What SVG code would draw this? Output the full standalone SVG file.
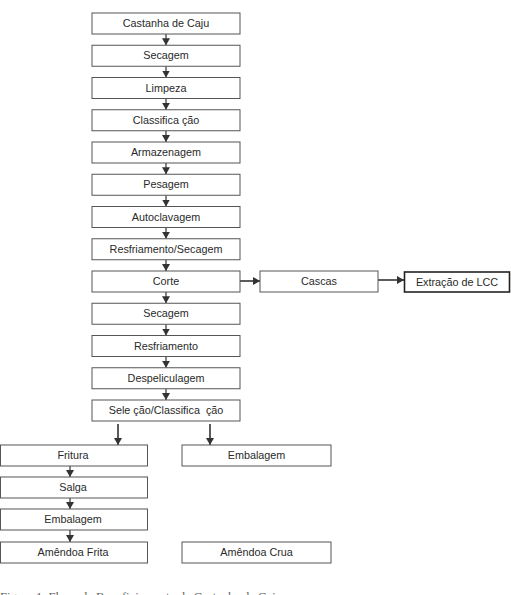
<svg xmlns="http://www.w3.org/2000/svg" width="511" height="595" viewBox="0 0 511 595">
<style>
.b{fill:#fff;stroke:#555;stroke-width:1}
.bd{fill:#fff;stroke:#222;stroke-width:1.6}
.t{font-family:"Liberation Sans",Arial,sans-serif;font-size:10.8px;fill:#2a2a2a;text-anchor:middle}
.c{stroke:#333;stroke-width:1.2;fill:none;marker-end:url(#ah)}
.cl{stroke:#333;stroke-width:1.6;fill:none;marker-end:url(#ah)}
.cap{font-family:"Liberation Serif","Times New Roman",serif;font-size:12px;fill:#666}
</style>
<defs>
<marker id="ah" viewBox="0 0 7 8" refX="7" refY="4" markerWidth="7" markerHeight="8" markerUnits="userSpaceOnUse" orient="auto">
<path d="M0,0 L7,4 L0,8 z" fill="#333"/>
</marker>
</defs>
<rect width="511" height="595" fill="#fff"/>
<g id="connectors">
<line class="c" x1="166" y1="34" x2="166" y2="45.25"/>
<line class="c" x1="166" y1="66.25" x2="166" y2="77.5"/>
<line class="c" x1="166" y1="98.5" x2="166" y2="109.75"/>
<line class="c" x1="166" y1="130.75" x2="166" y2="142"/>
<line class="c" x1="166" y1="163" x2="166" y2="174.25"/>
<line class="c" x1="166" y1="195.25" x2="166" y2="206.5"/>
<line class="c" x1="166" y1="227.5" x2="166" y2="238.75"/>
<line class="c" x1="166" y1="259.75" x2="166" y2="271"/>
<line class="c" x1="166" y1="292" x2="166" y2="303.25"/>
<line class="c" x1="166" y1="324.25" x2="166" y2="335.5"/>
<line class="c" x1="166" y1="356.5" x2="166" y2="367.75"/>
<line class="c" x1="166" y1="388.75" x2="166" y2="400"/>
<line class="cl" x1="240" y1="281" x2="260" y2="281"/>
<line class="cl" x1="378" y1="280" x2="404" y2="280"/>
<line class="cl" x1="118" y1="424" x2="118" y2="445"/>
<line class="cl" x1="210" y1="424" x2="210" y2="445"/>
<line class="c" x1="70" y1="466" x2="70" y2="477"/>
<line class="c" x1="70" y1="498" x2="70" y2="509"/>
<line class="c" x1="70" y1="530" x2="70" y2="542"/>
</g>
<g id="n1"><rect class="b" x="92" y="13" width="148" height="21"/><text class="t" x="166" y="27">Castanha de Caju</text></g>
<g id="n2"><rect class="b" x="92" y="45.25" width="148" height="21"/><text class="t" x="166" y="59.25">Secagem</text></g>
<g id="n3"><rect class="b" x="92" y="77.5" width="148" height="21"/><text class="t" x="166" y="91.5">Limpeza</text></g>
<g id="n4"><rect class="b" x="92" y="109.75" width="148" height="21"/><text class="t" x="166" y="123.75" xml:space="preserve">Classifica ção</text></g>
<g id="n5"><rect class="b" x="92" y="142" width="148" height="21"/><text class="t" x="166" y="156">Armazenagem</text></g>
<g id="n6"><rect class="b" x="92" y="174.25" width="148" height="21"/><text class="t" x="166" y="188.25">Pesagem</text></g>
<g id="n7"><rect class="b" x="92" y="206.5" width="148" height="21"/><text class="t" x="166" y="220.5">Autoclavagem</text></g>
<g id="n8"><rect class="b" x="92" y="238.75" width="148" height="21"/><text class="t" x="166" y="252.75">Resfriamento/Secagem</text></g>
<g id="n9"><rect class="b" x="92" y="271" width="148" height="21"/><text class="t" x="166" y="285">Corte</text></g>
<g id="n10"><rect class="b" x="92" y="303.25" width="148" height="21"/><text class="t" x="166" y="317.25">Secagem</text></g>
<g id="n11"><rect class="b" x="92" y="335.5" width="148" height="21"/><text class="t" x="166" y="349.5">Resfriamento</text></g>
<g id="n12"><rect class="b" x="92" y="367.75" width="148" height="21"/><text class="t" x="166" y="381.75">Despeliculagem</text></g>
<g id="n13"><rect class="b" x="92" y="400" width="148" height="21"/><text class="t" x="166" y="414" xml:space="preserve">Sele ção/Classifica  ção</text></g>
<g id="cascas"><rect class="b" x="260" y="271" width="118" height="21"/><text class="t" x="319" y="285">Cascas</text></g>
<g id="lcc"><rect class="bd" x="404.5" y="272" width="105" height="20"/><text class="t" x="457" y="285.5">Extração de LCC</text></g>
<g id="fritura"><rect class="b" x="0.5" y="445" width="147" height="21"/><text class="t" x="73" y="459">Fritura</text></g>
<g id="salga"><rect class="b" x="0.5" y="477" width="147" height="21"/><text class="t" x="73" y="491">Salga</text></g>
<g id="emb1"><rect class="b" x="0.5" y="509" width="147" height="21"/><text class="t" x="73" y="523">Embalagem</text></g>
<g id="frita"><rect class="b" x="0.5" y="542" width="147" height="21"/><text class="t" x="73" y="556">Amêndoa Frita</text></g>
<g id="emb2"><rect class="b" x="182" y="445" width="149" height="21"/><text class="t" x="256.5" y="459">Embalagem</text></g>
<g id="crua"><rect class="b" x="182" y="542" width="149" height="21"/><text class="t" x="256.5" y="556">Amêndoa Crua</text></g>
<text class="cap" x="0" y="601" textLength="285" lengthAdjust="spacingAndGlyphs">Figura 1. Fluxo de Beneficiamento da Castanha de Caju.</text>
</svg>
